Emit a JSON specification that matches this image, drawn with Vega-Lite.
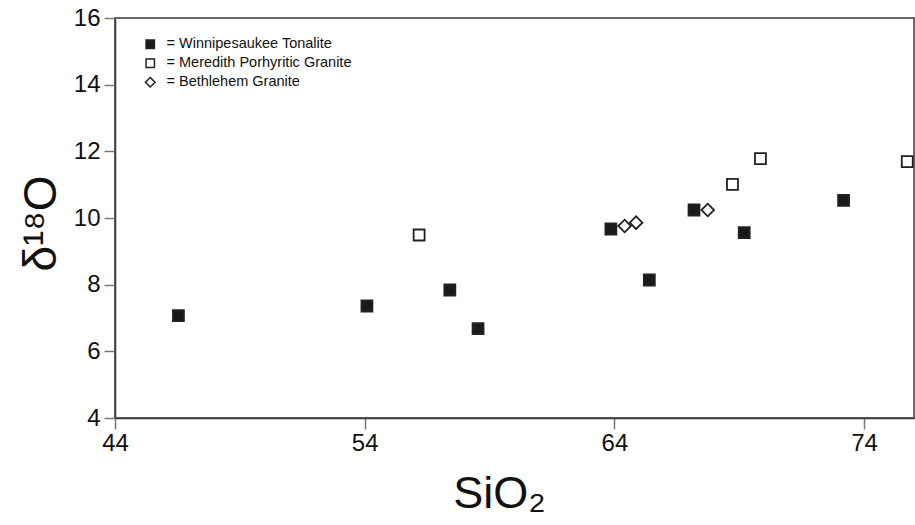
{
  "$schema": "https://vega.github.io/schema/vega-lite/v6.json",
  "width": 799,
  "height": 400,
  "autosize": {"type": "none"},
  "padding": {"left": 115, "top": 18, "right": 1, "bottom": 107},
  "background": "white",
  "config": {
    "view": {"stroke": "#3a3a3a", "strokeWidth": 1.5},
    "font": "Liberation Sans"
  },
  "data": {
    "values": [
      {"rock": "Winnipesaukee Tonalite", "SiO2": 46.54, "d18O": 7.07},
      {"rock": "Winnipesaukee Tonalite", "SiO2": 54.09, "d18O": 7.36},
      {"rock": "Winnipesaukee Tonalite", "SiO2": 57.41, "d18O": 7.84},
      {"rock": "Winnipesaukee Tonalite", "SiO2": 58.54, "d18O": 6.68},
      {"rock": "Winnipesaukee Tonalite", "SiO2": 63.86, "d18O": 9.67},
      {"rock": "Winnipesaukee Tonalite", "SiO2": 65.4, "d18O": 8.14},
      {"rock": "Winnipesaukee Tonalite", "SiO2": 67.19, "d18O": 10.24},
      {"rock": "Winnipesaukee Tonalite", "SiO2": 69.2, "d18O": 9.56},
      {"rock": "Winnipesaukee Tonalite", "SiO2": 73.18, "d18O": 10.53},
      {"rock": "Meredith Porhyritic Granite", "SiO2": 56.18, "d18O": 9.49},
      {"rock": "Meredith Porhyritic Granite", "SiO2": 68.73, "d18O": 11.01},
      {"rock": "Meredith Porhyritic Granite", "SiO2": 69.85, "d18O": 11.78},
      {"rock": "Meredith Porhyritic Granite", "SiO2": 75.73, "d18O": 11.69},
      {"rock": "Bethlehem Granite", "SiO2": 64.41, "d18O": 9.76},
      {"rock": "Bethlehem Granite", "SiO2": 64.87, "d18O": 9.86},
      {"rock": "Bethlehem Granite", "SiO2": 67.74, "d18O": 10.24}
    ]
  },
  "mark": {"type": "point", "filled": true, "stroke": "#222", "strokeWidth": 1.8, "opacity": 1, "size": 120},
  "encoding": {
    "x": {
      "field": "SiO2", "type": "quantitative",
      "scale": {"domain": [44, 76], "nice": false, "zero": false},
      "axis": {
        "title": "SiO₂",
        "values": [44, 54, 64, 74],
        "grid": false,
        "domainColor": "#3a3a3a", "domainWidth": 1.5,
        "tickColor": "#777", "tickWidth": 1.5, "tickSize": 11,
        "labelFont": "Liberation Sans", "labelFontSize": 24, "labelColor": "#111", "labelPadding": 2,
        "labelFlush": false,
        "titleFont": "Liberation Sans Narrow, Liberation Sans", "titleFontSize": 45, "titleFontWeight": "normal", "titleColor": "#111",
        "titleBaseline": "alphabetic", "titleX": 384, "titleY": 89, "titleAnchor": "middle", "titleAlign": "center"
      }
    },
    "y": {
      "field": "d18O", "type": "quantitative",
      "scale": {"domain": [4, 16], "nice": false, "zero": false},
      "axis": {
        "title": "δ¹⁸O",
        "values": [4, 6, 8, 10, 12, 14, 16],
        "grid": false,
        "domainColor": "#3a3a3a", "domainWidth": 1.5,
        "tickColor": "#777", "tickWidth": 1.5, "tickSize": 11,
        "labelFont": "Liberation Sans", "labelFontSize": 24, "labelColor": "#111", "labelPadding": 4,
        "labelFlush": false,
        "titleFont": "Liberation Sans", "titleFontSize": 46, "titleFontWeight": "normal", "titleColor": "#111",
        "titleAngle": -90, "titleBaseline": "alphabetic", "titleX": -60, "titleY": 205, "titleAlign": "center"
      }
    },
    "shape": {
      "field": "rock", "type": "nominal",
      "scale": {"domain": ["Winnipesaukee Tonalite", "Meredith Porhyritic Granite", "Bethlehem Granite"], "range": ["square", "square", "M-1.15,0L0,-1.15L1.15,0L0,1.15Z"]},
      "legend": {
        "title": null, "orient": "none", "legendX": 28, "legendY": 19, "padding": 0,
        "labelExpr": "'= ' + datum.label", "labelLimit": 400,
        "labelFont": "Liberation Sans", "labelFontSize": 14.5, "labelColor": "#111",
        "symbolSize": 70, "labelOffset": 9, "rowPadding": 3,
        "encode": {"symbols": {"update": {"stroke": {"value": "#222"}, "strokeWidth": {"value": 1.5}, "opacity": {"value": 1}}}}
      }
    },
    "fill": {
      "field": "rock", "type": "nominal",
      "scale": {"domain": ["Winnipesaukee Tonalite", "Meredith Porhyritic Granite", "Bethlehem Granite"], "range": ["#1a1a1a", "#ffffff", "#ffffff"]},
      "legend": {
        "title": null, "orient": "none", "legendX": 28, "legendY": 19, "padding": 0,
        "labelExpr": "'= ' + datum.label", "labelLimit": 400,
        "labelFont": "Liberation Sans", "labelFontSize": 14.5, "labelColor": "#111",
        "symbolSize": 70, "labelOffset": 9, "rowPadding": 3,
        "encode": {"symbols": {"update": {"stroke": {"value": "#222"}, "strokeWidth": {"value": 1.5}, "opacity": {"value": 1}}}}
      }
    }
  }
}
